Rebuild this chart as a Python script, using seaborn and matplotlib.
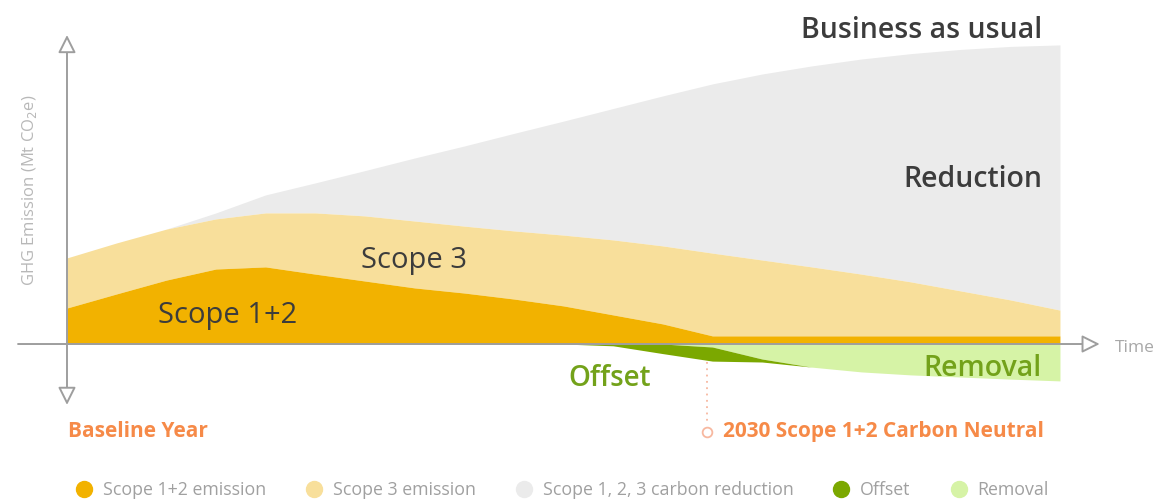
import numpy as np
import pandas as pd
import matplotlib.pyplot as plt
from matplotlib.lines import Line2D
import seaborn as sns

# time axis (0 = baseline year, 100 = end of horizon)
years = [0, 5, 10, 15, 20, 25, 30, 35, 40, 45, 50, 55, 60, 65, 70, 75, 80, 85, 90, 95, 100]
# stacked layers above zero (emission units)
scope12 = [12.0, 16.7, 21.3, 25.0, 25.7, 23.3, 21.0, 18.7, 17.0, 15.0, 12.7, 9.7, 6.7, 2.7,
           2.7, 2.7, 2.7, 2.7, 2.7, 2.7, 2.7]
scope3 = [16.7, 17.0, 17.0, 16.7, 18.0, 20.4, 21.7, 22.3, 22.3, 22.7, 23.6, 25.0, 26.0, 27.6,
          25.3, 23.0, 20.6, 18.0, 15.0, 12.0, 8.6]
reduction = [0.0, 0.0, 0.0, 2.0, 6.0, 10.0, 15.1, 21.0, 26.7, 32.5, 38.0, 43.8, 50.0, 56.4,
             62.0, 67.0, 71.7, 76.1, 80.5, 84.5, 88.4]
# layers below zero
removal = [0, 0, 0, 0, 0, 0, 0, 0, 0, 0, 0, 0, 0, 1.0, 5.0, 7.7, 9.3, 10.3, 11.0, 11.7, 12.3]
offset = [0, 0, 0, 0, 0, 0, 0, 0, 0, 0, 0, 0.6, 3.2, 4.7, 1.0, 0, 0, 0, 0, 0, 0]

legend_labels = ["Scope 1+2 emission", "Scope 3 emission", "Scope 1, 2, 3 carbon reduction",
                 "Offset", "Removal"]
colors = ["#F2B200", "#F8DF9B", "#EBEBEB", "#7BA800", "#D6F3A6"]

df = pd.DataFrame({"year": years, "scope12": scope12, "scope3": scope3,
                   "reduction": reduction, "removal": removal, "offset": offset})
df["top12"] = df["scope12"]
df["top3"] = df["top12"] + df["scope3"]
df["bau"] = df["top3"] + df["reduction"]
df["low_rem"] = -df["removal"]
df["low_off"] = df["low_rem"] - df["offset"]

sns.set_theme(style="white")
plt.rcParams['font.family'] = ['Open Sans', 'DejaVu Sans']

fig = plt.figure(figsize=(11.54, 5.01), dpi=100)
ax = fig.add_axes([0, 0, 1, 1])
ax.set_xlim(-6.747, 109.47)
ax.set_ylim(-52.33, 114.67)
ax.axis("off")

x = df["year"]
ax.fill_between(x, df["top3"], df["bau"], color=colors[2], lw=0)
ax.fill_between(x, df["top12"], df["top3"], color=colors[1], lw=0)
ax.fill_between(x, 0, df["top12"], color=colors[0], lw=0)
ax.fill_between(x, 0, df["low_rem"], color=colors[4], lw=0)
ax.fill_between(x, df["low_rem"], df["low_off"], color=colors[3], lw=0)

axcol = "#9E9E9E"
arrow = dict(arrowstyle="-|>,head_length=0.9,head_width=0.45", color=axcol,
             fc="white", lw=1.4, shrinkA=0, shrinkB=0)
# x axis
ax.annotate("", xy=(104.0, 0), xytext=(-4.93, 0), arrowprops=arrow)
# y axis (both ways)
ax.annotate("", xy=(0, 103.0), xytext=(0, 0), arrowprops=arrow)
ax.annotate("", xy=(0, -20.3), xytext=(0, 0), arrowprops=arrow)

ax.text(105.5, -1.3, "Time", color="#A8A8A8", fontsize=12.5, va="center", ha="left")
ax.text(-3.73, 51.3, "GHG Emission (Mt CO$_2$e)", color="#B8B8B8", fontsize=12,
        rotation=90, va="center", ha="center")

dark = "#3C3C3C"
ax.text(98.2, 104.4, "Business as usual", color=dark, fontsize=20.5, weight="semibold",
        ha="right", va="center")
ax.text(98.2, 54.8, "Reduction", color=dark, fontsize=20.5, weight="semibold",
        ha="right", va="center")
ax.text(29.6, 28.0, "Scope 3", color=dark, fontsize=21, weight="medium",
        ha="left", va="center")
ax.text(9.2, 9.6, "Scope 1+2", color=dark, fontsize=21, weight="medium",
        ha="left", va="center")

green = "#73A21A"
ax.text(50.5, -11.4, "Offset", color=green, fontsize=20, weight="semibold",
        ha="left", va="center")
ax.text(98.2, -8.0, "Removal", color=green, fontsize=20.5, weight="semibold",
        ha="right", va="center")

orange = "#F68A48"
ax.text(0.1, -29.3, "Baseline Year", color=orange, fontsize=15, weight="bold",
        ha="left", va="center")
ax.text(66.1, -29.3, "2030 Scope 1+2 Carbon Neutral", color=orange, fontsize=15,
        weight="bold", ha="left", va="center")
ax.plot([64.45, 64.45], [-6.0, -26.0], color="#F7B8A0", lw=1.3, ls=(0, (1, 2.5)))
ax.plot([64.45], [-29.3], marker="o", ms=7, mfc="white", mec="#F7B8A0", mew=1.3)

handles = [Line2D([], [], marker="o", ls="", ms=11.5, mfc=c, mec=c) for c in colors]
leg = fig.legend(handles, legend_labels, loc="lower center", bbox_to_anchor=(0.487, -0.028),
                 ncol=5, frameon=False, fontsize=12.8, columnspacing=2.2, handletextpad=0.55,
                 handlelength=1.0)
for t in leg.get_texts():
    t.set_color("#A0A0A0")

fig.savefig("out.png", dpi=100)
